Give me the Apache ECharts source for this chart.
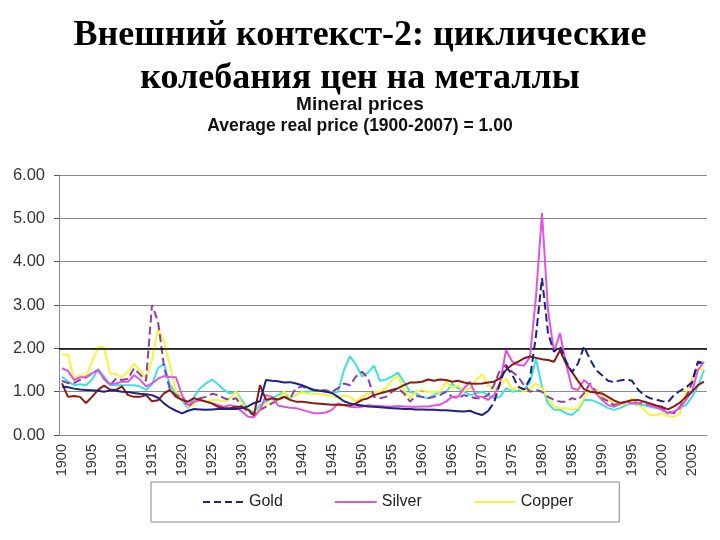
<!DOCTYPE html>
<html>
<head>
<meta charset="utf-8">
<script src="https://cdn.jsdelivr.net/npm/echarts@6/dist/echarts.min.js"></script>
<style>html,body{margin:0;padding:0;background:#fff}#c{width:720px;height:540px}</style>
</head>
<body>
<div id="c"></div>
<script>
// Categories: years 1900-2007
const years = [];
for (let y = 1900; y <= 2007; y++) years.push(String(y));

const yTicks = [0, 1, 2, 3, 4, 5, 6];

// Average real price (1900-2007) = 1.00
const gold = [
1.12,1.10,1.07,1.05,1.04,1.03,1.02,1.00,1.03,1.02,
1.00,0.99,0.97,0.95,0.94,0.92,0.86,0.73,0.63,0.56,
0.50,0.56,0.60,0.59,0.58,0.59,0.60,0.60,0.60,0.60,
0.62,0.66,0.74,0.78,1.27,1.25,1.24,1.21,1.22,1.19,
1.15,1.09,1.04,1.02,1.00,0.97,0.88,0.78,0.73,0.70,
0.68,0.66,0.65,0.64,0.63,0.62,0.61,0.60,0.60,0.59,
0.59,0.58,0.58,0.57,0.57,0.56,0.55,0.54,0.56,0.50,
0.46,0.55,0.75,1.20,1.58,1.40,1.12,1.05,1.30,2.30,
3.62,2.35,1.92,2.05,1.70,1.45,1.65,2.04,1.75,1.50,
1.38,1.25,1.22,1.26,1.28,1.25,1.05,0.92,0.85,0.82,
0.78,0.76,0.92,1.02,1.10,1.22,1.69,1.65];

const silver = [
1.54,1.48,1.27,1.33,1.33,1.42,1.50,1.30,1.17,1.19,
1.23,1.23,1.38,1.28,1.12,1.19,1.30,1.36,1.34,1.33,
0.92,0.69,0.77,0.80,0.77,0.73,0.69,0.65,0.69,0.65,
0.54,0.42,0.41,0.58,0.92,0.88,0.68,0.65,0.63,0.62,
0.58,0.54,0.50,0.50,0.52,0.58,0.73,0.69,0.65,0.64,
0.65,0.69,0.67,0.67,0.66,0.66,0.67,0.66,0.65,0.65,
0.66,0.66,0.68,0.70,0.77,0.88,0.88,1.08,1.23,0.90,
0.88,0.81,0.92,1.19,1.96,1.70,1.62,1.60,1.80,3.20,
5.12,2.88,1.92,2.35,1.65,1.08,1.04,1.27,1.15,0.96,
0.81,0.69,0.65,0.72,0.77,0.73,0.73,0.77,0.69,0.64,
0.58,0.50,0.54,0.62,0.81,1.00,1.50,1.69];

const copper = [
1.86,1.85,1.30,1.38,1.36,1.69,2.03,2.03,1.42,1.41,
1.33,1.46,1.64,1.50,1.30,1.73,2.45,2.15,1.60,1.00,
0.88,0.65,0.69,0.85,0.77,0.81,0.81,0.77,0.85,1.00,
0.73,0.58,0.44,0.62,0.69,0.77,0.80,1.00,0.88,0.92,
0.98,0.96,0.95,0.94,0.93,0.90,0.85,0.92,0.88,0.77,
0.88,0.96,1.00,1.00,1.08,1.27,1.35,1.04,0.85,1.00,
1.04,1.00,1.00,1.00,1.23,1.08,1.15,1.02,1.08,1.27,
1.40,1.15,1.08,1.12,1.31,1.05,1.10,1.00,1.08,1.19,
1.08,0.85,0.65,0.62,0.62,0.58,0.62,0.85,1.04,1.05,
0.90,0.80,0.75,0.69,0.74,0.85,0.70,0.58,0.46,0.46,
0.50,0.43,0.42,0.50,0.98,1.30,1.54,1.50];

const cyanMetal = [
1.35,1.23,1.15,1.17,1.15,1.28,1.52,1.35,1.15,1.15,
1.15,1.15,1.15,1.12,1.04,1.17,1.54,1.65,1.15,0.96,
0.80,0.62,0.88,1.08,1.19,1.28,1.17,1.04,0.96,1.00,
0.80,0.60,0.52,0.69,0.77,0.85,0.92,1.00,0.85,0.92,
1.00,1.00,1.04,1.02,1.00,0.98,1.00,1.50,1.82,1.62,
1.35,1.44,1.60,1.25,1.28,1.35,1.44,1.22,1.00,0.96,
0.88,0.85,0.92,1.00,0.98,1.19,1.08,1.00,0.92,0.96,
1.00,0.92,0.85,0.88,1.08,1.00,1.02,1.05,1.22,1.75,
1.12,0.73,0.58,0.58,0.50,0.46,0.58,0.81,0.81,0.77,
0.70,0.62,0.58,0.62,0.69,0.73,0.69,0.69,0.65,0.62,
0.62,0.50,0.54,0.62,0.69,0.88,1.12,1.50];

const maroonMetal = [
1.19,0.88,0.90,0.88,0.74,0.88,1.04,1.14,1.05,1.04,
1.12,0.92,0.88,0.88,0.92,0.78,0.80,0.96,1.04,0.88,
0.81,0.77,0.85,0.81,0.77,0.73,0.65,0.62,0.62,0.65,
0.65,0.58,0.46,1.15,0.81,0.85,0.82,0.88,0.81,0.77,
0.77,0.75,0.73,0.72,0.71,0.70,0.70,0.69,0.68,0.73,
0.81,0.85,0.92,0.96,1.00,1.04,1.08,1.15,1.21,1.21,
1.23,1.28,1.25,1.28,1.27,1.23,1.25,1.21,1.19,1.18,
1.19,1.21,1.23,1.31,1.50,1.62,1.69,1.77,1.81,1.78,
1.75,1.73,1.69,1.95,1.65,1.45,1.25,1.06,1.00,0.98,
0.96,0.88,0.80,0.74,0.77,0.80,0.81,0.77,0.73,0.68,
0.65,0.59,0.66,0.75,0.88,1.00,1.15,1.23];

const purpleMetal = [
1.25,1.20,1.20,1.27,1.33,1.42,1.50,1.30,1.15,1.30,
1.27,1.30,1.54,1.40,1.25,3.00,2.62,1.58,1.04,0.92,
0.88,0.65,0.77,0.85,0.88,0.95,0.92,0.85,0.81,0.85,
0.65,0.54,0.46,0.58,0.65,0.73,0.80,0.88,0.85,1.08,
1.12,1.08,1.04,1.03,1.03,1.00,1.08,1.19,1.15,1.35,
1.46,1.31,0.88,0.85,0.88,1.00,1.08,0.96,0.77,0.90,
0.88,0.85,0.88,0.92,1.00,0.88,0.85,0.92,0.88,0.85,
0.85,0.92,1.15,1.50,1.62,1.46,1.35,1.15,1.00,1.04,
1.00,0.88,0.81,0.77,0.77,0.85,0.81,0.96,1.19,1.00,
0.85,0.78,0.69,0.72,0.76,0.77,0.73,0.73,0.69,0.65,
0.62,0.54,0.50,0.65,0.88,1.19,1.69,1.65];

const goldSolid = gold.map((v, i) => (i <= 71 ? v : null));
const goldDashed = gold.map((v, i) => (i >= 71 ? v : null));

const chart = echarts.init(document.getElementById('c'), null, {renderer: 'canvas'});
const line = (name, data, color, type, z) => ({
  name, type: 'line', data, symbol: 'none', smooth: false, z: z,
  lineStyle: {color, width: 2, type: type || 'solid'},
  itemStyle: {color}, emphasis: {disabled: true}, animation: false
});

const solidIcon = 'path://M0,0h42v2h-42z';
const dashIcon = 'path://M0,0h7v2h-7zM11,0h7v2h-7zM22,0h7v2h-7zM33,0h7v2h-7z';

chart.setOption({
  animation: false,
  title: [
    {text: 'Внешний контекст-2: циклические\nколебания цен на металлы', left: 'center', top: 9,
     textStyle: {fontFamily: 'Liberation Serif', fontWeight: 'bold', fontSize: 36, lineHeight: 43, color: '#000'}},
    {text: 'Mineral prices', left: 'center', top: 90,
     textStyle: {fontFamily: 'Liberation Sans', fontWeight: 'bold', fontSize: 19, color: '#111'}},
    {text: 'Average real price (1900-2007) = 1.00', left: 'center', top: 112,
     textStyle: {fontFamily: 'Liberation Sans', fontWeight: 'bold', fontSize: 17.5, color: '#111'}}
  ],
  grid: {left: 59, right: 13, top: 175, bottom: 105, containLabel: false},
  legend: {
    data: [
      {name: 'Gold', icon: dashIcon},
      {name: 'Silver', icon: solidIcon},
      {name: 'Copper', icon: solidIcon}
    ],
    left: 151, top: 482,
    borderColor: '#888', borderWidth: 1,
    padding: [12, 46, 12, 52],
    itemWidth: 42, itemHeight: 2, itemGap: 52,
    textStyle: {fontFamily: 'Liberation Sans', fontSize: 16, color: '#222', lineHeight: 16, height: 16}
  },
  xAxis: {
    type: 'category', data: years, boundaryGap: true,
    axisLine: {lineStyle: {color: '#888'}},
    axisTick: {interval: 4, length: 5, lineStyle: {color: '#555'}},
    axisLabel: {interval: 4, rotate: 90, margin: 9, fontFamily: 'Liberation Sans', fontSize: 14.5, color: '#333'},
    splitLine: {show: false}
  },
  yAxis: {
    type: 'value', min: yTicks[0], max: yTicks[yTicks.length - 1], interval: 1,
    axisLine: {show: true, lineStyle: {color: '#888'}},
    axisTick: {show: true, length: 5, lineStyle: {color: '#555'}},
    axisLabel: {formatter: v => v.toFixed(2), margin: 14, fontFamily: 'Liberation Sans', fontSize: 16.5, color: '#333'},
    splitLine: {lineStyle: {color: '#8a8a8a', width: 1}}
  },
  series: [
    Object.assign(line('Lead', cyanMetal, '#3EE0E0', 'solid', 2), {
      markLine: {silent: true, symbol: 'none', label: {show: false},
        lineStyle: {color: '#000', width: 1.5, type: 'solid'}, data: [{yAxis: 2}], animation: false}
    }),
    line('Copper', copper, '#F5F53A', 'solid', 3),
    line('Zinc', purpleMetal, '#8A3FA8', 'dashed', 4),
    line('Silver', silver, '#E055E0', 'solid', 5),
    line('Tin', maroonMetal, '#8B1A10', 'solid', 6),
    line('Gold (1900-1971)', goldSolid, '#1F237F', 'solid', 7),
    line('Gold', goldDashed, '#1F237F', 'dashed', 7)
  ]
});
</script>
</body>
</html>
